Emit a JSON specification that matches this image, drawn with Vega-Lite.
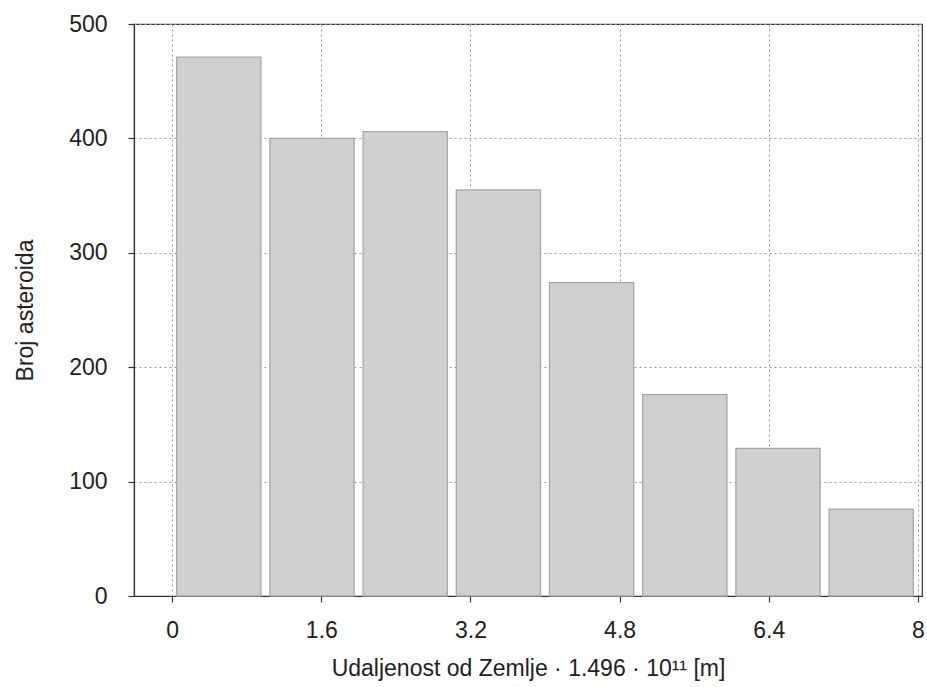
{
  "$schema": "https://vega.github.io/schema/vega-lite/v6.json",
  "width": 788,
  "height": 572,
  "autosize": {"type": "none"},
  "padding": {"left": 134, "top": 24, "right": 5, "bottom": 91},
  "background": "white",
  "data": {
    "values": [
      {"bin_start": 0, "bin_end": 1, "count": 471},
      {"bin_start": 1, "bin_end": 2, "count": 400},
      {"bin_start": 2, "bin_end": 3, "count": 406},
      {"bin_start": 3, "bin_end": 4, "count": 355},
      {"bin_start": 4, "bin_end": 5, "count": 274},
      {"bin_start": 5, "bin_end": 6, "count": 176},
      {"bin_start": 6, "bin_end": 7, "count": 129},
      {"bin_start": 7, "bin_end": 8, "count": 76}
    ]
  },
  "mark": {
    "type": "bar",
    "fill": "#d0d0d0",
    "stroke": "#a6a6a6",
    "strokeWidth": 1.3,
    "xOffset": 4.5,
    "x2Offset": -4.5
  },
  "encoding": {
    "x": {
      "field": "bin_start",
      "type": "quantitative",
      "scale": {"domain": [-0.41, 8.045], "nice": false, "zero": false},
      "axis": {
        "values": [0, 1.6, 3.2, 4.8, 6.4, 8],
        "labelExpr": "format(datum.value, '.1~f')",
        "title": "Udaljenost od Zemlje · 1.496 · 10¹¹ [m]",
        "titlePadding": 15,
        "labelPadding": 17
      }
    },
    "x2": {"field": "bin_end"},
    "y": {
      "field": "count",
      "type": "quantitative",
      "scale": {"domain": [0, 500], "nice": false},
      "axis": {
        "values": [0, 100, 200, 300, 400, 500],
        "title": "Broj asteroida",
        "titlePadding": 31,
        "labelPadding": 21
      }
    },
    "y2": {"datum": 0}
  },
  "config": {
    "view": {"stroke": "#333333", "strokeWidth": 1.2},
    "axis": {
      "labelFont": "Liberation Sans",
      "labelFontSize": 23,
      "labelColor": "#222222",
      "titleFont": "Liberation Sans",
      "titleFontSize": 23,
      "titleFontWeight": "normal",
      "titleColor": "#222222",
      "domainColor": "#333333",
      "domainWidth": 1.2,
      "tickColor": "#333333",
      "tickSize": 6,
      "tickWidth": 1.2,
      "grid": true,
      "gridColor": "#9a9a9a",
      "gridDash": [2, 3],
      "gridWidth": 1,
      "labelFlush": false,
      "labelOverlap": false
    }
  }
}
